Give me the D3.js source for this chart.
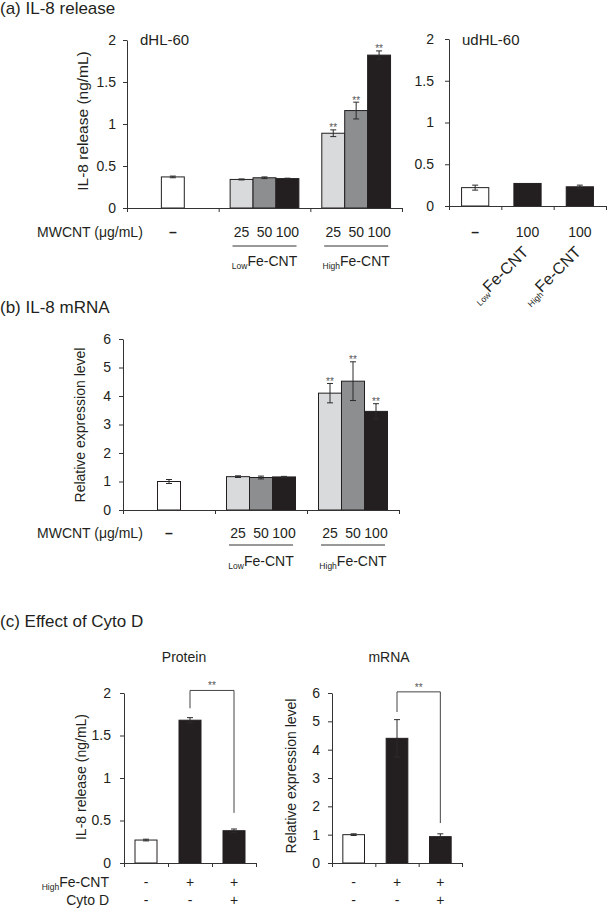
<!DOCTYPE html>
<html>
<head>
<meta charset="utf-8">
<script src="https://cdn.jsdelivr.net/npm/d3@7"></script>
<style>
  body { margin: 0; background: #fff; }
  text { font-family: "Liberation Sans", Arial, sans-serif; fill: #231f20; }
</style>
</head>
<body>
<script>
// values
const doses = ["25", "50", "100"];
const feGroups = ["Low", "High"];
const dHL60 = [0.37, 0.34, 0.36, 0.35, 0.89, 1.16, 1.82];
const dHL60Err = [0.01, 0.006, 0.01, 0.005, 0.04, 0.1, 0.05];
const udHL60 = [0.22, 0.27, 0.23];
const udHL60Err = [0.03, 0, 0.02];
const mrna = [1.0, 1.17, 1.14, 1.16, 4.1, 4.52, 3.46];
const mrnaErr = [0.07, 0.03, 0.05, 0.02, 0.34, 0.68, 0.27];
const cytoProtein = [0.27, 1.68, 0.38];
const cytoProteinErr = [0.01, 0.03, 0.02];
const cytoMrna = [1.0, 4.4, 0.93];
const cytoMrnaErr = [0.03, 0.66, 0.1];
const cytoFeRow = ["-", "+", "+"];
const cytoDRow = ["-", "-", "+"];
const starred = [4, 5, 6];
const proteinBracket = [2.03, 1.82, 0.59];   // top, left leg end, right leg end
const mrnaBracket = [6.04, 5.33, 1.41];
const releaseTicks = [0, 0.5, 1, 1.5, 2];
const mrnaTicks = [0, 1, 2, 3, 4, 5, 6];

const doseFill = ["#d9dadb", "#8c8e90", "#231f20"];
const axisCol = "#333";

const svg = d3.select("body")
  .append("svg")
  .attr("width", 607)
  .attr("height", 909);

function panel(cfg) {
  const g = svg.append("g");
  const y = d3.scaleLinear().domain([0, cfg.max]).range([cfg.bottom, cfg.top]);
  const xg = d3.scaleLinear().domain([0, cfg.groups.length]).range([cfg.left, cfg.right]);
  const bw = (xg(1) - xg(0)) * cfg.barFrac;

  const bars = [];
  cfg.groups.forEach((n, gi) => {
    for (let k = 0; k < n; k++) bars.push({ gi: gi, k: k, n: n });
  });
  bars.forEach((b, i) => {
    b.i = i;
    b.v = cfg.values[i];
    b.e = cfg.errs[i];
    b.cx = xg(b.gi + 0.5) + (b.k - (b.n - 1) / 2) * bw;
  });

  g.selectAll("rect.bar")
    .data(bars)
    .enter()
    .append("rect")
    .attr("class", "bar")
    .attr("x", d => d.cx - bw / 2)
    .attr("width", bw)
    .attr("y", d => y(d.v))
    .attr("height", d => y(0) - y(d.v))
    .attr("fill", cfg.fill)
    .attr("stroke", "#231f20")
    .attr("stroke-width", 1);

  // error bars
  const eb = g.selectAll("g.err")
    .data(bars.filter(d => d.e > 0))
    .enter()
    .append("g")
    .attr("stroke", "#2b2b2b")
    .attr("stroke-width", 1);
  eb.append("line")
    .attr("x1", d => d.cx).attr("x2", d => d.cx)
    .attr("y1", d => y(d.v - d.e)).attr("y2", d => y(d.v + d.e));
  eb.append("line")
    .attr("x1", d => d.cx - 3).attr("x2", d => d.cx + 3)
    .attr("y1", d => y(d.v + d.e)).attr("y2", d => y(d.v + d.e));
  eb.append("line")
    .attr("x1", d => d.cx - 3).attr("x2", d => d.cx + 3)
    .attr("y1", d => y(d.v - d.e)).attr("y2", d => y(d.v - d.e));

  // axes
  const yAxis = g.append("g")
    .attr("transform", `translate(${cfg.left},0)`)
    .call(d3.axisLeft(y).tickValues(cfg.ticks).tickSize(4).tickSizeOuter(0)
      .tickPadding(cfg.pad).tickFormat(d3.format("~g")));
  const xAxis = g.append("g")
    .attr("transform", `translate(0,${cfg.bottom})`)
    .call(d3.axisBottom(xg).ticks(cfg.groups.length).tickSize(4).tickSizeOuter(0).tickFormat(""));
  [yAxis, xAxis].forEach(a => {
    a.selectAll("path, line").attr("stroke", axisCol);
    a.selectAll("text").attr("font-size", 14).attr("fill", "#231f20")
      .style("font-family", "'Liberation Sans', Arial, sans-serif");
  });

  return { g: g, y: y, xg: xg, bars: bars, bw: bw };
}

function stars(p, idx) {
  p.g.selectAll("text.star")
    .data(p.bars.filter(d => idx.includes(d.i)))
    .enter()
    .append("text")
    .attr("x", d => d.cx)
    .attr("y", d => p.y(d.v + d.e) + 1.5)
    .attr("text-anchor", "middle")
    .attr("font-size", 10)
    .style("fill", "#555")
    .text("**");
}

function feLabel(sel, name, big) {
  sel.append("tspan").attr("font-size", 8.5).attr("dy", 3).text(name);
  sel.append("tspan").attr("font-size", big).attr("dy", -3).text("Fe-CNT");
}

function yLabel(x, y, txt, size) {
  svg.append("text")
    .attr("transform", `translate(${x},${y}) rotate(-90)`)
    .attr("text-anchor", "middle")
    .attr("font-size", size)
    .text(txt);
}

function doseRows(p, rowY, lineY, groupY) {
  const ctrl = p.bars[0];
  svg.append("text")
    .attr("x", 37).attr("y", rowY)
    .attr("font-size", 14)
    .text("MWCNT (μg/mL)");
  svg.append("text")
    .attr("x", ctrl.cx).attr("y", rowY)
    .attr("text-anchor", "middle")
    .attr("font-size", 14).attr("font-weight", "bold")
    .text("–");
  svg.selectAll(null)
    .data(p.bars.slice(1))
    .enter()
    .append("text")
    .attr("x", d => d.cx).attr("y", rowY)
    .attr("text-anchor", "middle")
    .attr("font-size", 14)
    .text(d => doses[d.k]);
  feGroups.forEach((name, i) => {
    const cx = p.xg(i + 1.5);
    svg.append("line")
      .attr("x1", cx - 32).attr("x2", cx + 32)
      .attr("y1", lineY).attr("y2", lineY)
      .attr("stroke", axisCol);
    svg.append("text")
      .attr("x", cx).attr("y", groupY)
      .attr("text-anchor", "middle")
      .call(feLabel, name, 14);
  });
}

// ---------- (a) IL-8 release ----------
svg.append("text").attr("x", 0).attr("y", 14).attr("font-size", 17).text("(a) IL-8 release");

const pa = panel({
  left: 127, right: 402, top: 40, bottom: 208, max: 2,
  groups: [1, 3, 3], barFrac: 0.25, values: dHL60, errs: dHL60Err,
  ticks: releaseTicks, pad: 7,
  fill: d => d.gi === 0 ? "#fff" : doseFill[d.k]
});
stars(pa, starred);
svg.append("text").attr("x", 140).attr("y", 45).attr("font-size", 15).text("dHL-60");
yLabel(88, 121, "IL-8 release (ng/mL)", 15.5);
doseRows(pa, 237, 246, 266);

const pa2 = panel({
  left: 449, right: 606, top: 39, bottom: 206, max: 2,
  groups: [1, 1, 1], barFrac: 0.52, values: udHL60, errs: udHL60Err,
  ticks: releaseTicks, pad: 11,
  fill: d => d.gi === 0 ? "#fff" : doseFill[2]
});
svg.append("text").attr("x", 462).attr("y", 45).attr("font-size", 15).text("udHL-60");
svg.append("text")
  .attr("x", pa2.bars[0].cx).attr("y", 237)
  .attr("text-anchor", "middle")
  .attr("font-size", 14).attr("font-weight", "bold")
  .text("–");
pa2.bars.slice(1).forEach((b, i) => {
  svg.append("text")
    .attr("x", b.cx).attr("y", 237)
    .attr("text-anchor", "middle")
    .attr("font-size", 14)
    .text(doses[2]);
  svg.append("text")
    .attr("transform", `translate(${b.cx + 2},253) rotate(-45)`)
    .attr("text-anchor", "end")
    .call(feLabel, feGroups[i], 16);
});

// ---------- (b) IL-8 mRNA ----------
svg.append("text").attr("x", 0).attr("y", 313).attr("font-size", 17).text("(b) IL-8 mRNA");

const pb = panel({
  left: 123, right: 399, top: 339, bottom: 510, max: 6,
  groups: [1, 3, 3], barFrac: 0.25, values: mrna, errs: mrnaErr,
  ticks: mrnaTicks, pad: 8,
  fill: d => d.gi === 0 ? "#fff" : doseFill[d.k]
});
stars(pb, starred);
yLabel(85, 425, "Relative expression level", 14);
doseRows(pb, 538, 545, 566);

// ---------- (c) Effect of Cyto D ----------
svg.append("text").attr("x", 0).attr("y", 627).attr("font-size", 17).text("(c) Effect of Cyto D");

function cytoPanel(cfg, bracket, title, titleX) {
  const p = panel(cfg);
  svg.append("text")
    .attr("x", titleX).attr("y", 662)
    .attr("text-anchor", "middle")
    .attr("font-size", 14)
    .text(title);
  const b1 = p.bars[1], b2 = p.bars[2];
  svg.append("path")
    .attr("d", `M${b1.cx},${p.y(bracket[1])}V${p.y(bracket[0])}H${b2.cx}V${p.y(bracket[2])}`)
    .attr("fill", "none")
    .attr("stroke", "#444");
  svg.append("text")
    .attr("x", (b1.cx + b2.cx) / 2).attr("y", p.y(bracket[0]) - 1)
    .attr("text-anchor", "middle")
    .attr("font-size", 10)
    .style("fill", "#555")
    .text("**");
  [cytoFeRow, cytoDRow].forEach((row, r) => {
    svg.selectAll(null)
      .data(p.bars)
      .enter()
      .append("text")
      .attr("x", d => d.cx)
      .attr("y", 887 + r * 18)
      .attr("text-anchor", "middle")
      .attr("font-size", 14)
      .text(d => row[d.i]);
  });
  return p;
}

cytoPanel({
  left: 124, right: 256, top: 693, bottom: 863, max: 2,
  groups: [1, 1, 1], barFrac: 0.5, values: cytoProtein, errs: cytoProteinErr,
  ticks: releaseTicks, pad: 9,
  fill: d => d.gi === 0 ? "#fff" : doseFill[2]
}, proteinBracket, "Protein", 184);
yLabel(86, 777, "IL-8 release (ng/mL)", 14);

cytoPanel({
  left: 332, right: 462, top: 693, bottom: 863, max: 6,
  groups: [1, 1, 1], barFrac: 0.5, values: cytoMrna, errs: cytoMrnaErr,
  ticks: mrnaTicks, pad: 8,
  fill: d => d.gi === 0 ? "#fff" : doseFill[2]
}, mrnaBracket, "mRNA", 389);
yLabel(296, 776, "Relative expression level", 14);

svg.append("text")
  .attr("x", 109).attr("y", 887)
  .attr("text-anchor", "end")
  .call(feLabel, "High", 14);
svg.append("text")
  .attr("x", 109).attr("y", 905)
  .attr("text-anchor", "end")
  .attr("font-size", 14)
  .text("Cyto D");
</script>
</body>
</html>
